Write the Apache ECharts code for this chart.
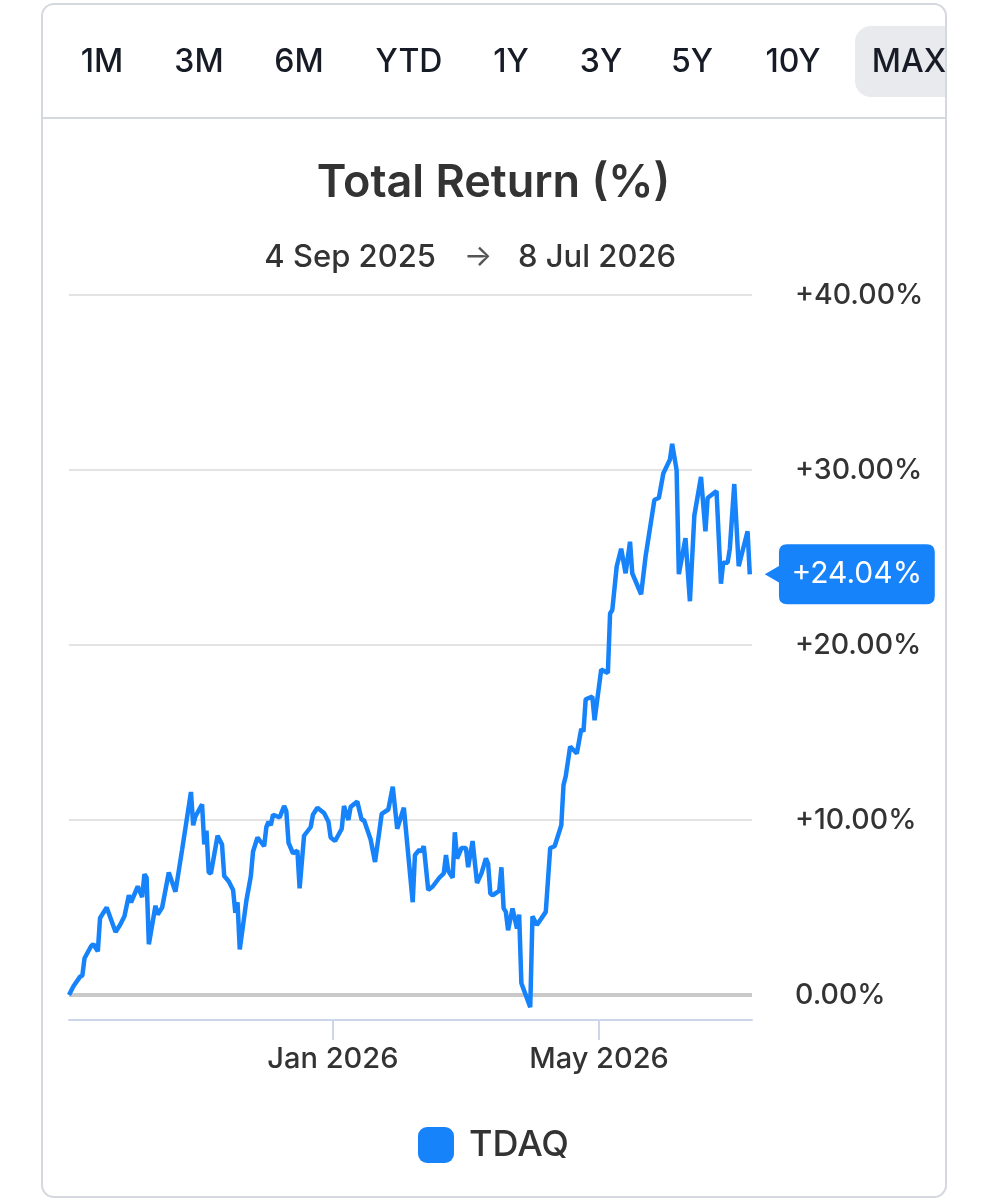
<!DOCTYPE html>
<html>
<head>
<meta charset="utf-8">
<script src="https://cdn.jsdelivr.net/npm/echarts@6/dist/echarts.min.js"></script>
<style>
  html, body { margin: 0; padding: 0; background: #fff; }
  #chart-container { width: 987px; height: 1200px; }
</style>
</head>
<body>
<div id="chart-container"></div>
<script>
const ranges = ['1M', '3M', '6M', 'YTD', '1Y', '3Y', '5Y', '10Y', 'MAX'];
const rangeX = [102, 199, 299, 409, 511, 601, 692, 793, 909];

const dates = [
	'2025-09-04', '2025-09-06', '2025-09-09', '2025-09-10', '2025-09-11', '2025-09-14', '2025-09-15', '2025-09-17',
	'2025-09-18', '2025-09-21', '2025-09-25', '2025-09-27', '2025-09-29', '2025-10-01', '2025-10-02', '2025-10-05',
	'2025-10-07', '2025-10-08', '2025-10-09', '2025-10-10', '2025-10-13', '2025-10-14', '2025-10-16', '2025-10-19',
	'2025-10-22', '2025-10-25', '2025-10-29', '2025-10-30', '2025-10-31', '2025-11-03', '2025-11-04', '2025-11-05',
	'2025-11-06', '2025-11-07', '2025-11-10', '2025-11-12', '2025-11-13', '2025-11-15', '2025-11-17', '2025-11-18',
	'2025-11-19', '2025-11-20', '2025-11-23', '2025-11-25', '2025-11-26', '2025-11-28', '2025-12-01', '2025-12-02',
	'2025-12-03', '2025-12-04', '2025-12-05', '2025-12-08', '2025-12-10', '2025-12-11', '2025-12-12', '2025-12-14',
	'2025-12-16', '2025-12-17', '2025-12-19', '2025-12-22', '2025-12-23', '2025-12-25', '2025-12-28', '2025-12-30',
	'2025-12-31', '2026-01-02', '2026-01-05', '2026-01-06', '2026-01-08', '2026-01-09', '2026-01-12', '2026-01-14',
	'2026-01-15', '2026-01-18', '2026-01-20', '2026-01-22', '2026-01-23', '2026-01-26', '2026-01-28', '2026-01-30',
	'2026-02-02', '2026-02-06', '2026-02-07', '2026-02-09', '2026-02-10', '2026-02-11', '2026-02-13', '2026-02-15',
	'2026-02-18', '2026-02-20', '2026-02-21', '2026-02-22', '2026-02-24', '2026-02-25', '2026-02-26', '2026-02-28',
	'2026-03-02', '2026-03-03', '2026-03-05', '2026-03-07', '2026-03-09', '2026-03-11', '2026-03-12', '2026-03-13',
	'2026-03-14', '2026-03-17', '2026-03-18', '2026-03-19', '2026-03-20', '2026-03-21', '2026-03-23', '2026-03-25',
	'2026-03-26', '2026-03-27', '2026-03-31', '2026-04-01', '2026-04-03', '2026-04-07', '2026-04-09', '2026-04-11',
	'2026-04-14', '2026-04-15', '2026-04-16', '2026-04-18', '2026-04-21', '2026-04-23', '2026-04-24', '2026-04-25',
	'2026-04-28', '2026-04-29', '2026-05-02', '2026-05-05', '2026-05-06', '2026-05-07', '2026-05-09', '2026-05-11',
	'2026-05-13', '2026-05-15', '2026-05-16', '2026-05-18', '2026-05-20', '2026-05-22', '2026-05-26', '2026-05-28',
	'2026-05-30', '2026-06-02', '2026-06-03', '2026-06-05', '2026-06-06', '2026-06-09', '2026-06-11', '2026-06-13',
	'2026-06-16', '2026-06-18', '2026-06-19', '2026-06-23', '2026-06-25', '2026-06-26', '2026-06-28', '2026-06-29',
	'2026-07-01', '2026-07-03', '2026-07-07', '2026-07-08'
];
const returns = [
	0, 0.5, 1.05, 1.1, 2.1, 2.8, 2.9, 2.5,
	4.4, 5.0, 3.6, 4.0, 4.5, 5.7, 5.3, 6.2,
	5.6, 6.9, 6.7, 2.9, 5.1, 4.6, 5.0, 7.0,
	5.9, 8.3, 11.6, 9.7, 10.2, 10.9, 8.6, 9.4,
	7.0, 6.95, 9.1, 8.6, 6.8, 6.5, 6.0, 4.7,
	5.3, 2.6, 5.4, 6.8, 8.2, 9.0, 8.5, 9.6,
	9.9, 9.7, 10.3, 10.15, 10.8, 10.5, 8.7, 8.1,
	8.25, 6.1, 9.1, 9.6, 10.3, 10.7, 10.4, 9.9,
	9.0, 8.8, 9.5, 10.8, 10.0, 10.75, 11.05, 10.0,
	10.0, 8.9, 7.6, 9.4, 10.35, 10.6, 11.9, 9.5,
	10.7, 5.3, 8.0, 8.3, 8.2, 8.5, 6.0, 6.2,
	6.7, 6.95, 8.0, 7.1, 6.7, 9.3, 7.8, 8.4,
	8.4, 7.3, 8.8, 6.4, 6.95, 7.8, 7.5, 5.8,
	5.7, 5.95, 7.3, 4.95, 4.75, 3.7, 4.95, 3.8,
	4.6, 0.67, -0.7, 4.5, 4.0, 4.75, 8.4, 8.5,
	9.7, 12.0, 12.5, 14.2, 13.8, 15.2, 15.05, 16.9,
	17.05, 15.7, 18.6, 18.4, 21.8, 22.0, 24.5, 25.5,
	24.1, 25.9, 24.1, 23.5, 22.9, 25.05, 28.3, 28.4,
	29.8, 30.6, 31.5, 30.0, 24.05, 26.1, 22.5, 27.4,
	29.6, 26.5, 28.4, 28.8, 23.5, 24.7, 24.7, 25.5,
	29.2, 24.5, 26.5, 24.04
];
const yTicks = [0, 10, 20, 30, 40];
const xTickDates = ['2026-01-01', '2026-05-01'];
const xRange = ['2025-09-04', '2026-07-09'];
const monthNames = ['Jan', 'Feb', 'Mar', 'Apr', 'May', 'Jun', 'Jul', 'Aug', 'Sep', 'Oct', 'Nov', 'Dec'];

const font = 'Inter, "Noto Sans", sans-serif';
const blue = '#1783fb';

function ts(d) {
	return new Date(d + 'T00:00:00').getTime();
}

let myChart = echarts.init(document.getElementById('chart-container'), null, {
	renderer: 'canvas',
});

let lastDate = ts(dates[dates.length - 1]);
let lastVal = returns[returns.length - 1];

function fmtPct(v) {
	return (v > 0 ? '+' : '') + v.toFixed(2) + '%';
}

let graphics = [];
// MAX button background
graphics.push({
	type: 'rect',
	shape: { x: 855, y: 26, width: 95, height: 71, r: [16, 0, 0, 16] },
	style: { fill: '#e9eaee' },
	silent: true,
});
ranges.forEach(function (r, i) {
	graphics.push({
		type: 'text',
		x: rangeX[i],
		y: 62,
		style: {
			text: r,
			fill: '#161b26',
			font: '500 32px ' + font,
			textAlign: 'center',
			textVerticalAlign: 'middle',
		},
		silent: true,
	});
});
// clip anything past the card edge
graphics.push({
	type: 'rect',
	shape: { x: 947, y: 0, width: 40, height: 1200 },
	style: { fill: '#fff' },
	silent: true,
});
graphics.push({
	type: 'rect',
	shape: { x: 42, y: 4, width: 904, height: 1193, r: 12 },
	style: { fill: 'none', stroke: '#d5d8de', lineWidth: 2 },
	silent: true,
});
graphics.push({
	type: 'line',
	shape: { x1: 42, y1: 118, x2: 946, y2: 118 },
	style: { stroke: '#d5d8de', lineWidth: 2 },
	silent: true,
});
// date range subtitle
graphics.push({
	type: 'text',
	x: 436,
	y: 258,
	style: {
		text: '4 Sep 2025',
		fill: '#333',
		font: '500 31px ' + font,
		textAlign: 'right',
		textVerticalAlign: 'middle',
	},
	silent: true,
});
graphics.push({
	type: 'text',
	x: 478,
	y: 257,
	style: {
		text: '\u2192',
		fill: '#555',
		font: '400 30px ' + font,
		textAlign: 'center',
		textVerticalAlign: 'middle',
	},
	silent: true,
});
graphics.push({
	type: 'text',
	x: 518,
	y: 258,
	style: {
		text: '8 Jul 2026',
		fill: '#333',
		font: '500 31px ' + font,
		textAlign: 'left',
		textVerticalAlign: 'middle',
	},
	silent: true,
});

const calloutPath =
	'path://M16 8 Q16 0 24 0 L162 0 Q170 0 170 8 L170 50 Q170 58 162 58 L24 58 Q16 58 16 50 L16 37 L2 29 L16 21 Z';

let option = {
	animation: false,
	title: {
		text: 'Total Return (%)',
		left: 'center',
		top: 156,
		textStyle: {
			fontFamily: font,
			fontSize: 45,
			fontWeight: 600,
			color: '#333',
		},
	},
	graphic: graphics,
	legend: {
		data: ['TDAQ'],
		top: 1122,
		left: 'center',
		icon: 'roundRect',
		itemWidth: 36,
		itemHeight: 36,
		itemGap: 14,
		textStyle: {
			fontFamily: font,
			fontSize: 36,
			fontWeight: 500,
			color: '#333',
			padding: [0, 0, 0, 10],
		},
	},
	grid: {
		left: 69,
		right: 235,
		top: 295,
		bottom: 205,
		containLabel: false,
	},
	xAxis: {
		type: 'value',
		min: ts(xRange[0]),
		max: ts(xRange[1]),
		offset: 25,
		axisLine: { show: true, onZero: false, lineStyle: { color: '#ccd6eb', width: 2 } },
		axisTick: {
			show: true,
			length: 20,
			customValues: xTickDates.map(ts),
			lineStyle: { color: '#ccd6eb', width: 2 },
		},
		axisLabel: {
			customValues: xTickDates.map(ts),
			margin: 25,
			fontFamily: font,
			fontSize: 29,
			fontWeight: 500,
			color: '#333',
			formatter: function (v) {
				let d = new Date(v);
				return monthNames[d.getMonth()] + ' ' + d.getFullYear();
			},
		},
		splitLine: { show: false },
	},
	yAxis: {
		type: 'value',
		position: 'right',
		min: yTicks[0],
		max: yTicks[yTicks.length - 1],
		interval: 10,
		axisLine: { show: false },
		axisTick: { show: false },
		splitLine: { lineStyle: { color: '#e3e3e3', width: 2 } },
		axisLabel: {
			margin: 43,
			padding: [6, 0, 0, 0],
			fontFamily: font,
			fontSize: 28.5,
			fontWeight: 500,
			color: '#333',
			formatter: fmtPct,
		},
	},
	series: [
		{
			name: 'TDAQ',
			type: 'line',
			clip: false,
			showSymbol: false,
			color: blue,
			lineStyle: { color: blue, width: 4.5 },
			data: dates.map(function (d, i) {
				return [ts(d), returns[i]];
			}),
			markLine: {
				silent: true,
				symbol: 'none',
				label: { show: false },
				lineStyle: { color: '#c9c9c9', width: 4, type: 'solid' },
				data: [{ yAxis: 0 }],
				z: 1,
			},
			markPoint: {
				silent: true,
				symbol: calloutPath,
				symbolSize: [170, 60],
				symbolOffset: [100, 0],
				itemStyle: { color: blue },
				label: {
					show: true,
					offset: [7, 0],
					color: '#fff',
					fontFamily: font,
					fontSize: 30,
					fontWeight: 400,
					formatter: function () {
						return fmtPct(lastVal);
					},
				},
				data: [{ coord: [lastDate, lastVal], value: lastVal }],
			},
		},
	],
};

myChart.setOption(option);
window.addEventListener('resize', myChart.resize);
</script>
</body>
</html>
